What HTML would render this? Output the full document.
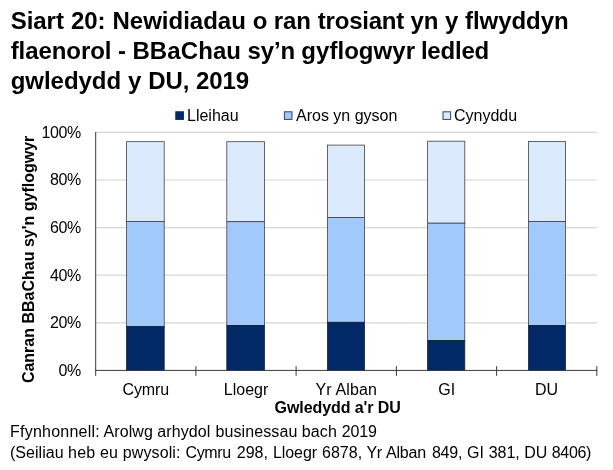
<!DOCTYPE html>
<html><head><meta charset="utf-8">
<style>
html,body{margin:0;padding:0;background:#fff;}
body{width:613px;height:470px;overflow:hidden;font-family:"Liberation Sans",sans-serif;}
svg{display:block;will-change:transform;}
text{font-family:"Liberation Sans",sans-serif;fill:#000;}
.t{font-weight:bold;font-size:24px;}
.l{font-size:16px;}
.a{font-size:16px;}
.c{font-size:16px;}
.b{font-size:16px;font-weight:bold;}
.f{font-size:16px;}
</style></head><body>
<svg width="613" height="470" viewBox="0 0 613 470">
<rect width="613" height="470" fill="#fff"/>
<text class="t" x="10.7" y="28.8" textLength="53.2">Siart</text>
<text class="t" x="70.9" y="28.8" textLength="34.7">20:</text>
<text class="t" x="112.5" y="28.8" textLength="133.4">Newidiadau</text>
<text class="t" x="252.8" y="28.8" textLength="14.6">o</text>
<text class="t" x="273.7" y="28.8" textLength="37.3">ran</text>
<text class="t" x="317.8" y="28.8" textLength="86.5">trosiant</text>
<text class="t" x="410.5" y="28.8" textLength="28.0">yn</text>
<text class="t" x="445.1" y="28.8" textLength="13.3">y</text>
<text class="t" x="465.0" y="28.8" textLength="103.7">flwyddyn</text>
<text class="t" x="10.7" y="58.9" textLength="100.7">flaenorol</text>
<text class="t" x="117.9" y="58.9" textLength="8.0">-</text>
<text class="t" x="132.4" y="58.9" textLength="108.6">BBaChau</text>
<text class="t" x="247.4" y="58.9" textLength="47.8">sy’n</text>
<text class="t" x="301.3" y="58.9" textLength="113.7">gyflogwyr</text>
<text class="t" x="420.9" y="58.9" textLength="68.3">ledled</text>
<text class="t" x="10.7" y="89" textLength="110.4">gwledydd</text>
<text class="t" x="128.0" y="89" textLength="13.3">y</text>
<text class="t" x="148.2" y="89" textLength="41.2">DU,</text>
<text class="t" x="196.1" y="89" textLength="52.9">2019</text>
<rect x="175.800" y="111.800" width="7.600" height="7.600" fill="#002966" stroke="#002966"/>
<text class="l" x="187" y="121.300">Lleihau</text>
<rect x="284.400" y="111.800" width="7.600" height="7.600" fill="#a1c9fb" stroke="#2f4468"/>
<text class="l" x="296" y="121.300">Aros yn gyson</text>
<rect x="443" y="111.800" width="7.600" height="7.600" fill="#dbeafd" stroke="#2f4468"/>
<text class="l" x="454" y="121.300">Cynyddu</text>
<g stroke="#d6d6d6" stroke-width="1.200">
<line x1="96" x2="597" y1="132.4" y2="132.4"/>
<line x1="96" x2="597" y1="180.0" y2="180.0"/>
<line x1="96" x2="597" y1="227.6" y2="227.6"/>
<line x1="96" x2="597" y1="275.2" y2="275.2"/>
<line x1="96" x2="597" y1="322.9" y2="322.9"/>
</g>
<g id="bars">
<rect x="126.6" y="141.7" width="37.6" height="79.7" fill="#dbeafd" stroke="#404040" stroke-width="0.800"/>
<rect x="126.6" y="221.4" width="37.6" height="105.1" fill="#a1c9fb" stroke="#404040" stroke-width="0.800"/>
<rect x="126.6" y="326.5" width="37.6" height="43.9" fill="#002966" stroke="#15203a" stroke-width="0.800"/>
<rect x="226.8" y="141.7" width="37.6" height="80.0" fill="#dbeafd" stroke="#404040" stroke-width="0.800"/>
<rect x="226.8" y="221.7" width="37.6" height="103.7" fill="#a1c9fb" stroke="#404040" stroke-width="0.800"/>
<rect x="226.8" y="325.4" width="37.6" height="45.0" fill="#002966" stroke="#15203a" stroke-width="0.800"/>
<rect x="327.5" y="145.1" width="37.0" height="72.4" fill="#dbeafd" stroke="#404040" stroke-width="0.800"/>
<rect x="327.5" y="217.5" width="37.0" height="104.8" fill="#a1c9fb" stroke="#404040" stroke-width="0.800"/>
<rect x="327.5" y="322.3" width="37.0" height="48.1" fill="#002966" stroke="#15203a" stroke-width="0.800"/>
<rect x="427.6" y="141.2" width="37.2" height="82.0" fill="#dbeafd" stroke="#404040" stroke-width="0.800"/>
<rect x="427.6" y="223.2" width="37.2" height="117.3" fill="#a1c9fb" stroke="#404040" stroke-width="0.800"/>
<rect x="427.6" y="340.5" width="37.2" height="29.9" fill="#002966" stroke="#15203a" stroke-width="0.800"/>
<rect x="528.5" y="141.5" width="37.0" height="79.9" fill="#dbeafd" stroke="#404040" stroke-width="0.800"/>
<rect x="528.5" y="221.4" width="37.0" height="104.2" fill="#a1c9fb" stroke="#404040" stroke-width="0.800"/>
<rect x="528.5" y="325.6" width="37.0" height="44.8" fill="#002966" stroke="#15203a" stroke-width="0.800"/>
</g>
<g stroke="#3a3a3a" stroke-width="1">
<line x1="95.700" x2="95.700" y1="132" y2="375.900"/>
<line x1="95" x2="597.300" y1="370.400" y2="370.400"/>
<line x1="195.9" x2="195.9" y1="366.2" y2="375.900"/>
<line x1="296.1" x2="296.1" y1="366.2" y2="375.900"/>
<line x1="396.4" x2="396.4" y1="366.2" y2="375.900"/>
<line x1="496.6" x2="496.6" y1="366.2" y2="375.900"/>
<line x1="596.8" x2="596.8" y1="366.2" y2="375.900"/>
</g>
<g class="a" text-anchor="end">
<text x="81.2" y="137.7" textLength="39.7">100%</text>
<text x="81.2" y="185.3" textLength="31.3">80%</text>
<text x="81.2" y="232.9" textLength="31.3">60%</text>
<text x="81.2" y="280.5" textLength="31.3">40%</text>
<text x="81.2" y="328.1" textLength="31.3">20%</text>
<text x="81.2" y="375.7" textLength="22.6">0%</text>
</g>
<g class="c">
<text x="122.400" y="395.400" textLength="46.800">Cymru</text>
<text x="223.800" y="395.400" textLength="44.500">Lloegr</text>
<text x="315.400" y="395.400" textLength="61.500">Yr Alban</text>
<text x="438.200" y="395.400">GI</text>
<text x="535" y="395.400">DU</text>
</g>
<text class="b" x="274.600" y="413" textLength="126.100">Gwledydd a'r DU</text>
<text class="b" text-anchor="middle" transform="translate(33.700,259.400) rotate(-90)">Canran BBaChau sy'n gyflogwyr</text>
<text class="f" x="10.0" y="437.4" textLength="89.8">Ffynhonnell:</text>
<text class="f" x="103.6" y="437.4" textLength="49.2">Arolwg</text>
<text class="f" x="157.2" y="437.4" textLength="53.2">arhydol</text>
<text class="f" x="215.4" y="437.4" textLength="82.0">businessau</text>
<text class="f" x="301.8" y="437.4" textLength="35.0">bach</text>
<text class="f" x="341.8" y="437.4" textLength="35.0">2019</text>
<text class="f" x="10.0" y="458" textLength="53.6">(Seiliau</text>
<text class="f" x="68.1" y="458" textLength="27.1">heb</text>
<text class="f" x="100.1" y="458" textLength="17.8">eu</text>
<text class="f" x="122.7" y="458" textLength="57.8">pwysoli:</text>
<text class="f" x="185.4" y="458" textLength="45.8">Cymru</text>
<text class="f" x="236.7" y="458" textLength="31.3">298,</text>
<text class="f" x="272.9" y="458" textLength="44.2">Lloegr</text>
<text class="f" x="322.0" y="458" textLength="40.2">6878,</text>
<text class="f" x="366.4" y="458" textLength="15.6">Yr</text>
<text class="f" x="386.1" y="458" textLength="40.0">Alban</text>
<text class="f" x="431.9" y="458" textLength="30.6">849,</text>
<text class="f" x="467.0" y="458" textLength="16.9">GI</text>
<text class="f" x="488.8" y="458" textLength="30.9">381,</text>
<text class="f" x="524.2" y="458" textLength="23.1">DU</text>
<text class="f" x="551.8" y="458" textLength="39.5">8406)</text>
</svg>
</body></html>
